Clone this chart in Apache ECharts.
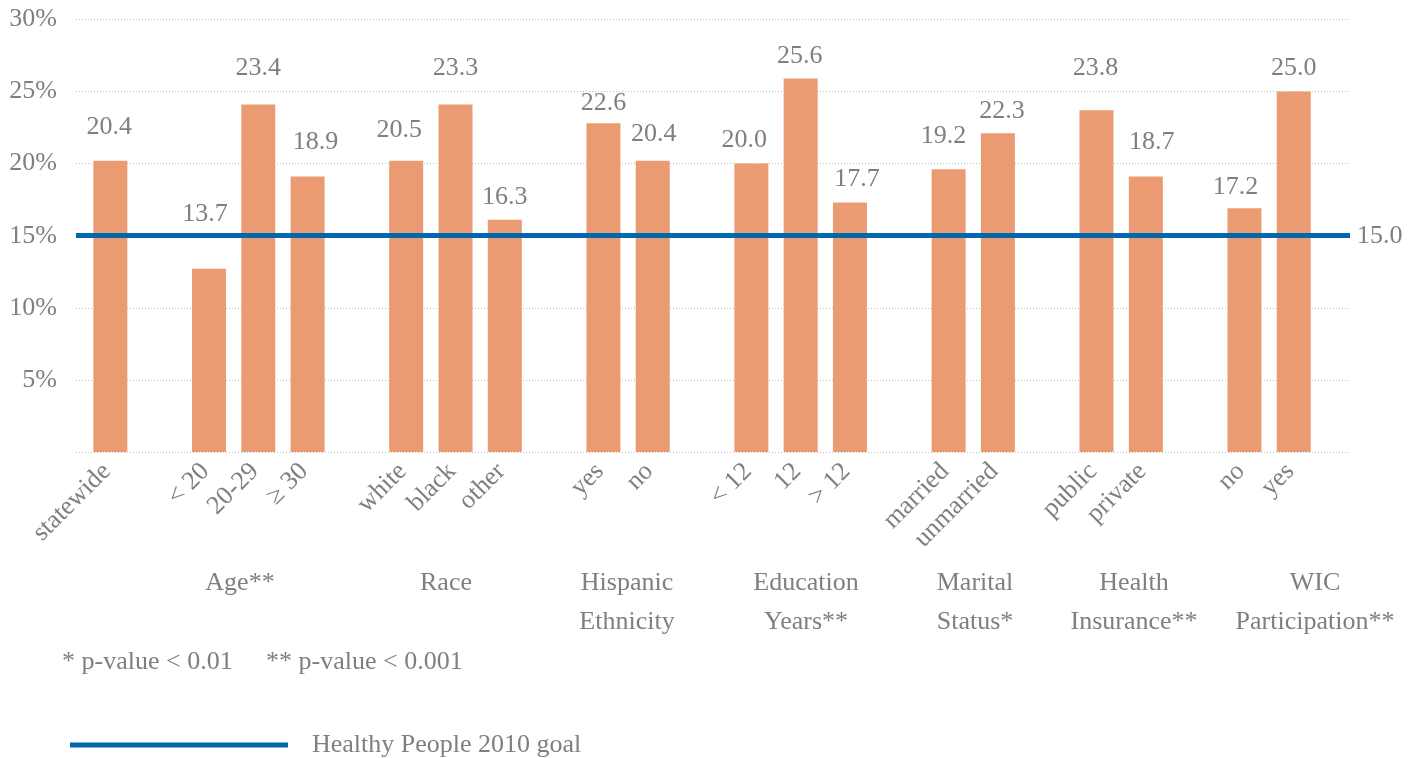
<!DOCTYPE html>
<html>
<head>
<meta charset="utf-8">
<script src="https://cdn.jsdelivr.net/npm/echarts@6/dist/echarts.min.js"></script>
<style>
  html, body { margin: 0; padding: 0; background: #ffffff; }
  #chart { width: 1420px; height: 758px; }
</style>
</head>
<body>
<div id="chart"></div>
<script>
// ---------------- DATA ----------------
const categories = ['statewide', '< 20', '20-29', '≥ 30', 'white', 'black', 'other', 'yes', 'no',
  '< 12', '12', '> 12', 'married', 'unmarried', 'public', 'private', 'no', 'yes'];
const groupOf = [0, 1, 1, 1, 2, 2, 2, 3, 3, 4, 4, 4, 5, 5, 6, 6, 7, 7];
const groupLabels = ['', 'Age**', 'Race', 'Hispanic\nEthnicity', 'Education\nYears**',
  'Marital\nStatus*', 'Health\nInsurance**', 'WIC\nParticipation**'];
// bar heights as drawn in the picture (percent)
const barValues = [20.2, 12.7, 24.1, 19.1, 20.2, 24.1, 16.1, 22.8, 20.2, 20.0, 25.9, 17.3,
  19.6, 22.1, 23.7, 19.1, 16.9, 25.0];
// values printed above the bars
const printedLabels = ['20.4', '13.7', '23.4', '18.9', '20.5', '23.3', '16.3', '22.6', '20.4',
  '20.0', '25.6', '17.7', '19.2', '22.3', '23.8', '18.7', '17.2', '25.0'];
const goalValue = 15.0;
const goalName = 'Healthy People 2010 goal';
const footnote = ['* p-value < 0.01', '** p-value < 0.001'];
const yMin = 0, yMax = 30, yStep = 5;

// ---------------- STYLE ----------------
const FONT = "'Liberation Serif', 'Times New Roman', serif";
const GRAY = '#7f7f7f';
const BAR = '#EB9B72';
const BLUE = '#0068AD';
const FS = 26;
// label nudges (dx, dy) relative to default 'top' placement
const labelDx = [-1, -4, 0, 8, -7, 0, 0, 0, 1, -7, -1, 7, -5, 4, -1, 6, -9, 0];
const labelGap = [34, 55, 36, 34, 31, 36, 23, 20, 27, 23, 22, 23, 33, 22, 42, 34, 21, 23];
const groupLabelX = [0, 240, 446, 627, 806, 975, 1134, 1315];

// ---------------- BUILD ----------------
const axisCats = [];
const barData = [];
categories.forEach((c, i) => {
  if (i > 0 && groupOf[i] !== groupOf[i - 1]) {
    axisCats.push({ value: ' '.repeat(axisCats.length + 1) });
    barData.push('-');
  }
  axisCats.push(c);
  barData.push({
    value: barValues[i],
    label: {
      formatter: printedLabels[i],
      offset: [labelDx[i], -(labelGap[i] - 13)]
    }
  });
});

const graphics = [];
groupLabels.forEach((g, k) => {
  if (!g) return;
  graphics.push({
    type: 'text', x: groupLabelX[k], y: 564,
    style: {
      text: g, fill: GRAY, font: FS + 'px ' + FONT,
      textAlign: 'center', align: 'center', textVerticalAlign: 'top', verticalAlign: 'top',
      lineHeight: 39
    }
  });
});
graphics.push({
  type: 'text', x: 62, y: 662,
  style: { text: footnote[0], fill: GRAY, font: FS + 'px ' + FONT, textVerticalAlign: 'middle', verticalAlign: 'middle' }
});
graphics.push({
  type: 'text', x: 266, y: 662,
  style: { text: footnote[1], fill: GRAY, font: FS + 'px ' + FONT, textVerticalAlign: 'middle', verticalAlign: 'middle' }
});

const chart = echarts.init(document.getElementById('chart'), null, { renderer: 'canvas' });
chart.setOption({
  animation: false,
  backgroundColor: '#ffffff',
  grid: [
    { left: 85.7, right: 101.6, top: 19.4, bottom: 306 },
    { left: 76, right: 70, top: 19.4, bottom: 306 }
  ],
  xAxis: [
    {
      gridIndex: 0, type: 'category', data: axisCats,
      axisLine: { show: false }, axisTick: { show: false }, splitLine: { show: false },
      axisLabel: { interval: 0, rotate: 45, margin: 12, padding: [0, 5, 0, 0], fontSize: FS, color: GRAY, fontFamily: FONT }
    },
    { gridIndex: 1, type: 'value', min: 0, max: 1, show: false }
  ],
  yAxis: [
    { gridIndex: 0, type: 'value', min: yMin, max: yMax, interval: yStep, show: false },
    {
      gridIndex: 1, type: 'value', min: yMin, max: yMax, interval: yStep,
      axisLine: { show: false }, axisTick: { show: false },
      splitLine: { show: true, lineStyle: { type: [1, 2], color: '#BDBDBD', width: 1 } },
      axisLabel: {
        margin: 19, fontSize: FS, color: GRAY, fontFamily: FONT,
        formatter: v => (v === 0 ? '' : v + '%')
      }
    }
  ],
  legend: {
    data: [goalName], left: 65, top: 727, icon: 'rect', itemWidth: 218, itemHeight: 5,
    selectedMode: false,
    textStyle: { fontSize: FS, color: GRAY, fontFamily: FONT, padding: [0, 0, 0, 19] }
  },
  graphic: graphics,
  series: [
    {
      type: 'bar', xAxisIndex: 0, yAxisIndex: 0, data: barData, barWidth: 34,
      itemStyle: { color: BAR },
      label: { show: true, position: 'top', distance: 0, fontSize: FS, color: GRAY, fontFamily: FONT },
      z: 2
    },
    {
      name: goalName, type: 'line', xAxisIndex: 1, yAxisIndex: 1, data: [],
      color: BLUE, itemStyle: { color: BLUE }, lineStyle: { color: BLUE, width: 5 },
      z: 5,
      markLine: {
        silent: true, symbol: ['none', 'none'],
        lineStyle: { color: BLUE, width: 5, type: 'solid' },
        label: { show: true, position: 'end', distance: 7, formatter: goalValue.toFixed(1), fontSize: FS, color: GRAY, fontFamily: FONT },
        data: [{ yAxis: goalValue }]
      }
    }
  ]
});
</script>
</body>
</html>
